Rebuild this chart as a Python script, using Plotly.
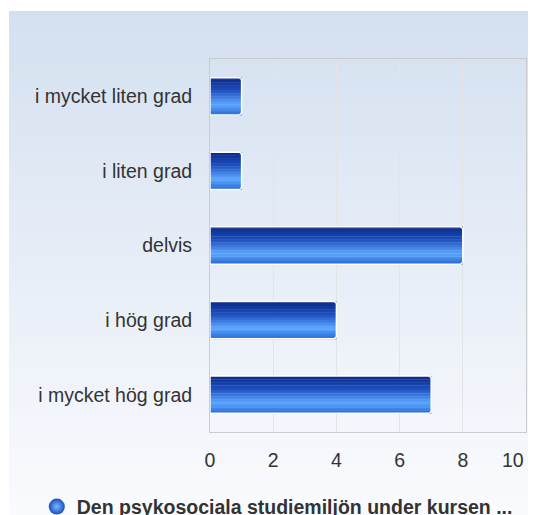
import plotly.graph_objects as go

categories = ["i mycket liten grad", "i liten grad", "delvis", "i hög grad", "i mycket hög grad"]
values = [1, 1, 8, 4, 7]
series_name = "Den psykosociala studiemiljön under kursen ..."
x_ticks = [0, 2, 4, 6, 8, 10]
x_tick_labels = ["0", "2", "4", "6", "8", "10"]

# page has an 8px body margin, so the figure is drawn 8px smaller and shifted
OFF = 8
W, H = 536 - OFF, 515 - OFF
L, T = 210 - OFF, 59 - OFF
R = W - (526 - OFF)
B = H - (432 - OFF)
PW, PH = W - L - R, H - T - B
FS = 19.5

def lerp(c1, c2, t):
    return tuple(round(a + (b - a) * t) for a, b in zip(c1, c2))

def grad(stops, t):
    for (t0, c0), (t1, c1) in zip(stops, stops[1:]):
        if t <= t1:
            return lerp(c0, c1, (t - t0) / (t1 - t0) if t1 > t0 else 0)
    return stops[-1][1]

bar_stops = [(0.0, (10, 40, 135)), (0.35, (30, 80, 190)), (0.72, (92, 168, 255)), (1.0, (38, 104, 212))]

fig = go.Figure()
N = 24
bw = 0.5
for k in range(N):
    t = (k + 0.5) / N
    c = grad(bar_stops, t)
    fig.add_trace(go.Bar(
        x=values, y=categories, orientation="h",
        width=bw / N + 0.006, offset=-bw / 2 + k * bw / N,
        marker=dict(color="rgb(%d,%d,%d)" % c, line=dict(width=0)),
        showlegend=False, hoverinfo="skip",
    ))
fig.add_trace(go.Bar(
    x=values, y=categories, orientation="h", width=bw,
    marker=dict(color="rgba(0,0,0,0)", line=dict(color="white", width=1.5), cornerradius=3),
    showlegend=False,
))
fig.add_trace(go.Scatter(
    x=[None], y=[None], mode="markers", name=series_name,
    marker=dict(symbol="circle", size=16, color="#1a4fc0",
                gradient=dict(type="radial", color="#7ab8ff")),
    showlegend=True,
))

# background gradient panel
shapes = []
top_px, bot_px = 11 - OFF, H
left_px = 9 - OFF
steps = 60
c_top, c_bot = (212, 224, 240), (250, 251, 254)
for i in range(steps):
    p0 = top_px + (bot_px - top_px) * i / steps
    p1 = top_px + (bot_px - top_px) * (i + 1) / steps + 0.5
    c = lerp(c_top, c_bot, (i + 0.5) / steps)
    shapes.append(dict(
        type="rect", xref="paper", yref="paper", layer="below",
        x0=(left_px - L) / PW, x1=(W - L) / PW,
        y0=(H - B - p1) / PH, y1=(H - B - p0) / PH,
        fillcolor="rgb(%d,%d,%d)" % c, line=dict(width=0),
    ))

# the last x tick label is pulled inside the chart edge, as in the reference
annotations = [dict(
    x=x_ticks[-1], xref="x", y=0, yref="paper", text=x_tick_labels[-1],
    xanchor="right", yanchor="middle", yshift=-28, showarrow=False,
    font=dict(size=FS, color="#333333"),
)]

fig.update_layout(
    width=W, height=H,
    margin=dict(l=L, r=R, t=T, b=B, pad=0, autoexpand=False),
    paper_bgcolor="white", plot_bgcolor="rgba(0,0,0,0)",
    barmode="overlay",
    shapes=shapes,
    annotations=annotations,
    font=dict(family="Arial, Liberation Sans, sans-serif", size=FS, color="#333333"),
    showlegend=True,
    legend=dict(orientation="h", xref="container", yref="container",
                x=0.51, y=0.016, xanchor="center", yanchor="middle",
                font=dict(size=FS, color="#333333", weight="bold"),
                bgcolor="rgba(0,0,0,0)", itemsizing="trace"),
    xaxis=dict(range=[0, 10], tickvals=x_ticks[:-1], ticktext=x_tick_labels[:-1],
               showgrid=True, gridcolor="#e4e4e4",
               showline=True, linecolor="#cccccc", linewidth=1, mirror=True, automargin=False,
               zeroline=False, ticks="", ticklabelstandoff=11,
               tickfont=dict(size=FS, color="#333333")),
    yaxis=dict(categoryorder="array", categoryarray=categories, autorange="reversed",
               showgrid=False, showline=True, linecolor="#cccccc", linewidth=1, mirror=True,
               automargin=False,
               ticks="", ticklabelstandoff=13, tickfont=dict(size=FS, color="#333333")),
)

fig.write_html(
    "out.html",
    default_width="%dpx" % W, default_height="%dpx" % H,
    post_script="document.documentElement.style.overflow='hidden';document.body.style.overflow='hidden';",
)
